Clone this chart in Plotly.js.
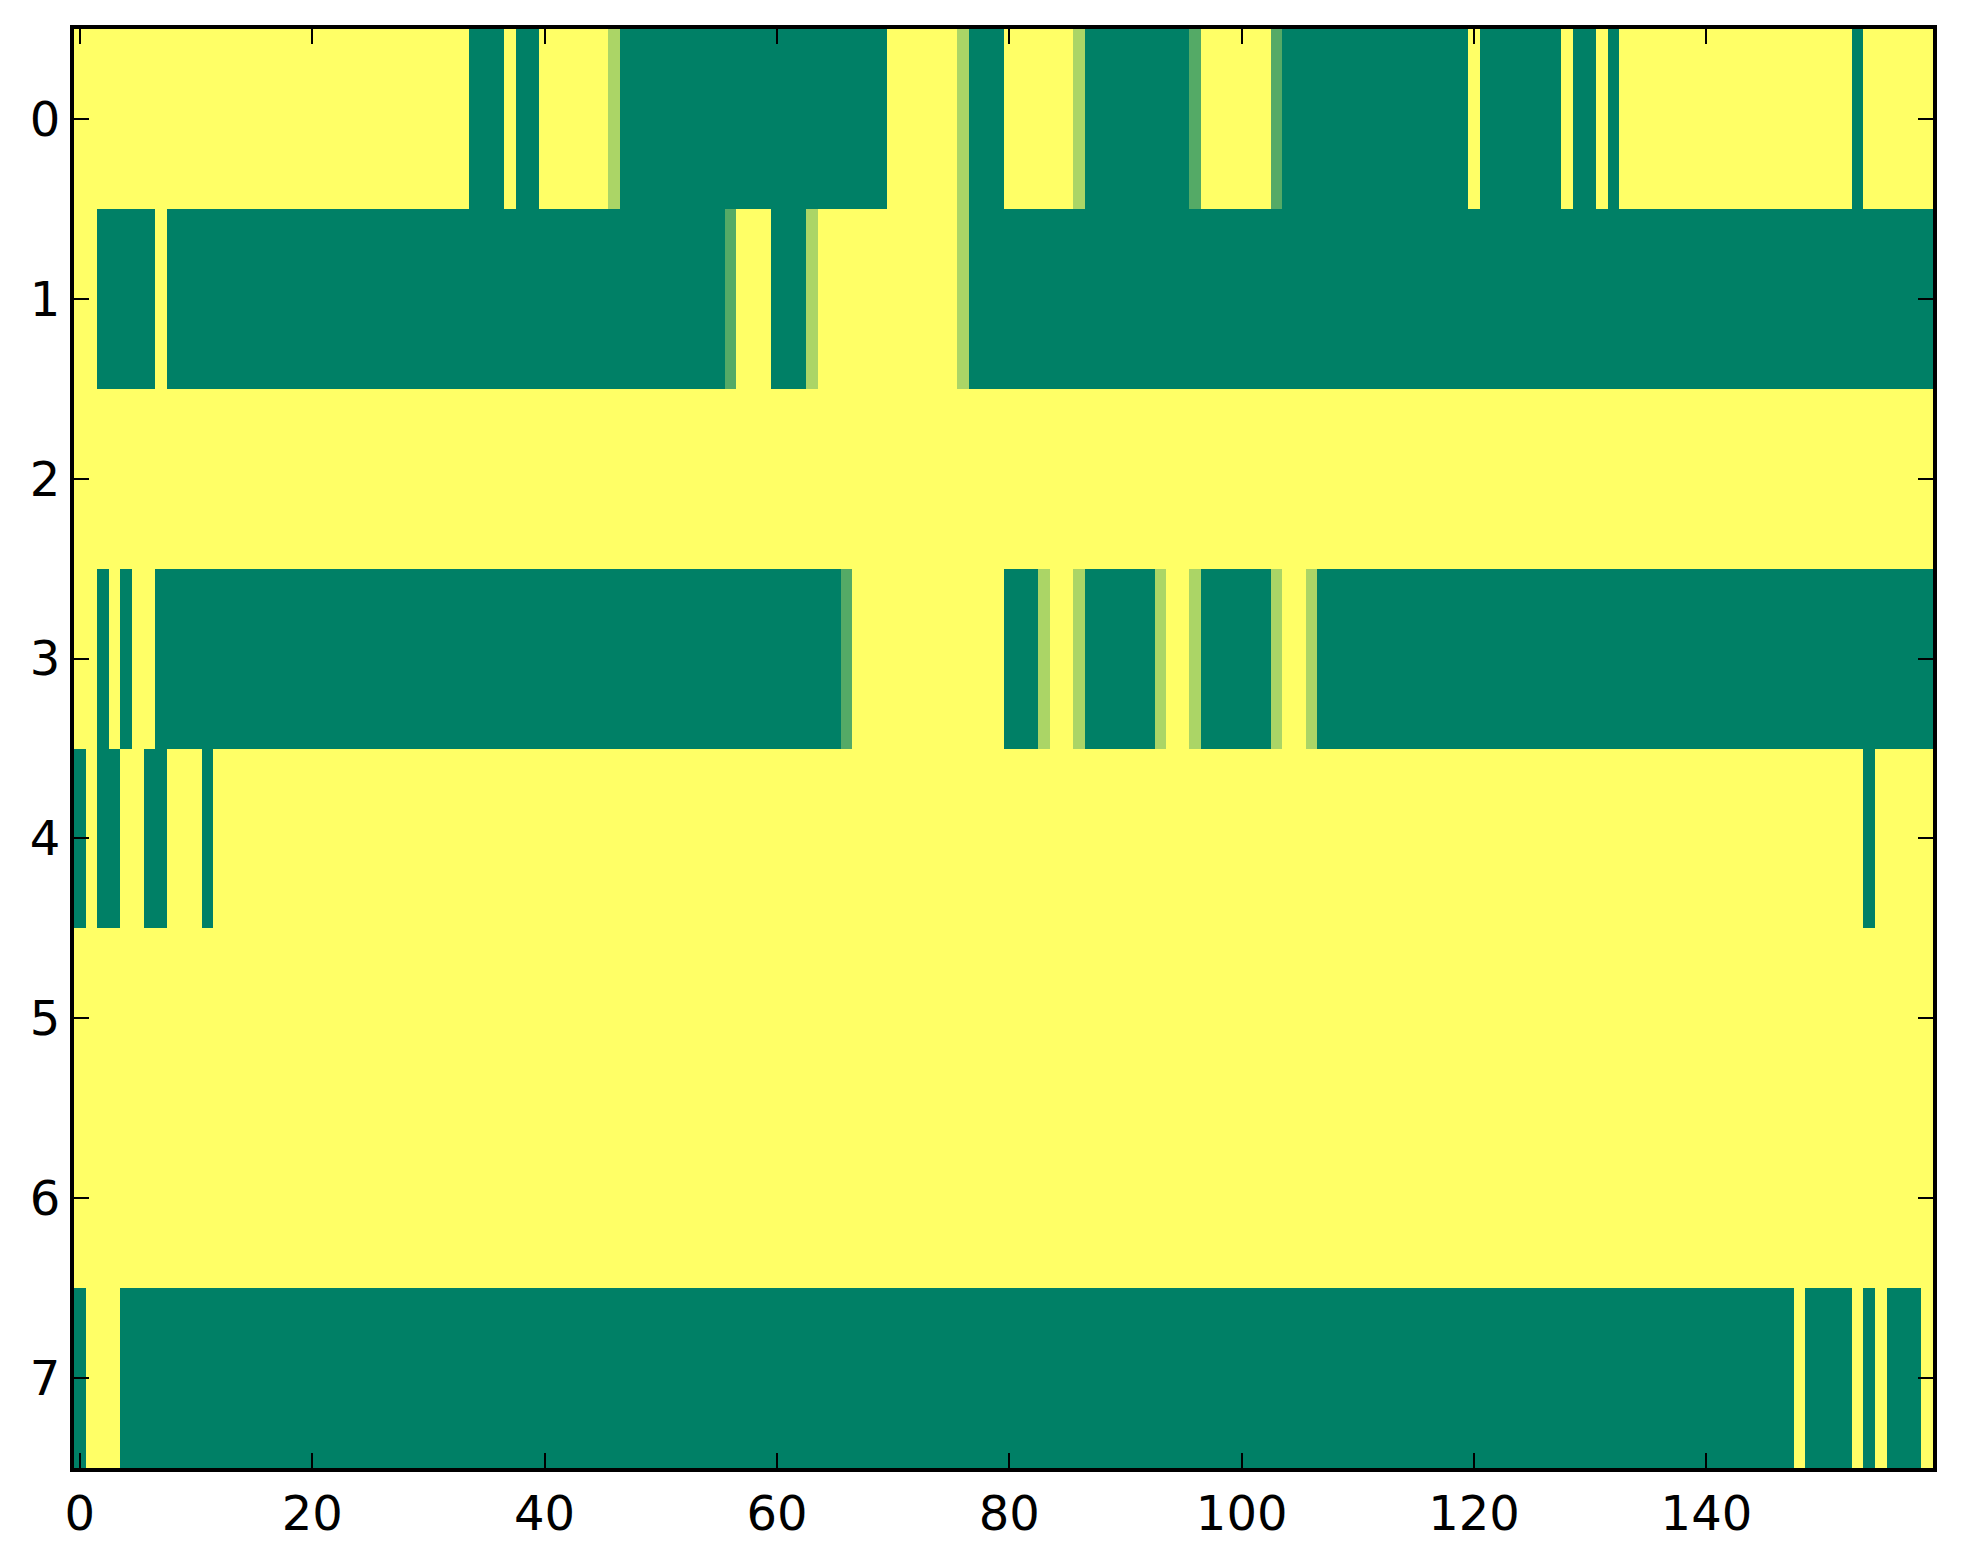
<!DOCTYPE html>
<html>
<head>
<meta charset="utf-8">
<script src="https://cdn.plot.ly/plotly-3.0.1.min.js"></script>
<style>
html,body{margin:0;padding:0;background:#fff;}
#chart{width:1963px;height:1564px;}
</style>
</head>
<body>
<div id="chart"></div>
<script>
// Cell values (summer colormap: 0 = dark green, 1 = yellow)
const row0 = [
  1,1,1,1,1,1,1,1,1,1,1,1,1,1,1,1,1,1,1,1,
  1,1,1,1,1,1,1,1,1,1,1,1,1,1,0,0,0,1,0,0,
  1,1,1,1,1,1,0.67,0,0,0,0,0,0,0,0,0,0,0,0,0,
  0,0,0,0,0,0,0,0,0,0,1,1,1,1,1,1,0.67,0,0,0,
  1,1,1,1,1,1,0.67,0,0,0,0,0,0,0,0,0,0.33,1,1,1,
  1,1,1,0.33,0,0,0,0,0,0,0,0,0,0,0,0,0,0,0,0,
  1,0,0,0,0,0,0,0,1,0,0,1,0,1,1,1,1,1,1,1,
  1,1,1,1,1,1,1,1,1,1,1,1,1,0,1,1,1,1,1,1
];
const row1 = [
  1,1,0,0,0,0,0,1,0,0,0,0,0,0,0,0,0,0,0,0,
  0,0,0,0,0,0,0,0,0,0,0,0,0,0,0,0,0,0,0,0,
  0,0,0,0,0,0,0,0,0,0,0,0,0,0,0,0,0.33,1,1,1,
  0,0,0,0.67,1,1,1,1,1,1,1,1,1,1,1,1,0.67,0,0,0,
  0,0,0,0,0,0,0,0,0,0,0,0,0,0,0,0,0,0,0,0,
  0,0,0,0,0,0,0,0,0,0,0,0,0,0,0,0,0,0,0,0,
  0,0,0,0,0,0,0,0,0,0,0,0,0,0,0,0,0,0,0,0,
  0,0,0,0,0,0,0,0,0,0,0,0,0,0,0,0,0,0,0,0
];
const row2 = [
  1,1,1,1,1,1,1,1,1,1,1,1,1,1,1,1,1,1,1,1,
  1,1,1,1,1,1,1,1,1,1,1,1,1,1,1,1,1,1,1,1,
  1,1,1,1,1,1,1,1,1,1,1,1,1,1,1,1,1,1,1,1,
  1,1,1,1,1,1,1,1,1,1,1,1,1,1,1,1,1,1,1,1,
  1,1,1,1,1,1,1,1,1,1,1,1,1,1,1,1,1,1,1,1,
  1,1,1,1,1,1,1,1,1,1,1,1,1,1,1,1,1,1,1,1,
  1,1,1,1,1,1,1,1,1,1,1,1,1,1,1,1,1,1,1,1,
  1,1,1,1,1,1,1,1,1,1,1,1,1,1,1,1,1,1,1,1
];
const row3 = [
  1,1,0,1,0,1,1,0,0,0,0,0,0,0,0,0,0,0,0,0,
  0,0,0,0,0,0,0,0,0,0,0,0,0,0,0,0,0,0,0,0,
  0,0,0,0,0,0,0,0,0,0,0,0,0,0,0,0,0,0,0,0,
  0,0,0,0,0,0,0.33,1,1,1,1,1,1,1,1,1,1,1,1,1,
  0,0,0,0.67,1,1,0.67,0,0,0,0,0,0,0.67,1,1,0.67,0,0,0,
  0,0,0,0.67,1,1,0.67,0,0,0,0,0,0,0,0,0,0,0,0,0,
  0,0,0,0,0,0,0,0,0,0,0,0,0,0,0,0,0,0,0,0,
  0,0,0,0,0,0,0,0,0,0,0,0,0,0,0,0,0,0,0,0
];
const row4 = [
  0,1,0,0,1,1,0,0,1,1,1,0,1,1,1,1,1,1,1,1,
  1,1,1,1,1,1,1,1,1,1,1,1,1,1,1,1,1,1,1,1,
  1,1,1,1,1,1,1,1,1,1,1,1,1,1,1,1,1,1,1,1,
  1,1,1,1,1,1,1,1,1,1,1,1,1,1,1,1,1,1,1,1,
  1,1,1,1,1,1,1,1,1,1,1,1,1,1,1,1,1,1,1,1,
  1,1,1,1,1,1,1,1,1,1,1,1,1,1,1,1,1,1,1,1,
  1,1,1,1,1,1,1,1,1,1,1,1,1,1,1,1,1,1,1,1,
  1,1,1,1,1,1,1,1,1,1,1,1,1,1,0,1,1,1,1,1
];
const row5 = [
  1,1,1,1,1,1,1,1,1,1,1,1,1,1,1,1,1,1,1,1,
  1,1,1,1,1,1,1,1,1,1,1,1,1,1,1,1,1,1,1,1,
  1,1,1,1,1,1,1,1,1,1,1,1,1,1,1,1,1,1,1,1,
  1,1,1,1,1,1,1,1,1,1,1,1,1,1,1,1,1,1,1,1,
  1,1,1,1,1,1,1,1,1,1,1,1,1,1,1,1,1,1,1,1,
  1,1,1,1,1,1,1,1,1,1,1,1,1,1,1,1,1,1,1,1,
  1,1,1,1,1,1,1,1,1,1,1,1,1,1,1,1,1,1,1,1,
  1,1,1,1,1,1,1,1,1,1,1,1,1,1,1,1,1,1,1,1
];
const row6 = [
  1,1,1,1,1,1,1,1,1,1,1,1,1,1,1,1,1,1,1,1,
  1,1,1,1,1,1,1,1,1,1,1,1,1,1,1,1,1,1,1,1,
  1,1,1,1,1,1,1,1,1,1,1,1,1,1,1,1,1,1,1,1,
  1,1,1,1,1,1,1,1,1,1,1,1,1,1,1,1,1,1,1,1,
  1,1,1,1,1,1,1,1,1,1,1,1,1,1,1,1,1,1,1,1,
  1,1,1,1,1,1,1,1,1,1,1,1,1,1,1,1,1,1,1,1,
  1,1,1,1,1,1,1,1,1,1,1,1,1,1,1,1,1,1,1,1,
  1,1,1,1,1,1,1,1,1,1,1,1,1,1,1,1,1,1,1,1
];
const row7 = [
  0,1,1,1,0,0,0,0,0,0,0,0,0,0,0,0,0,0,0,0,
  0,0,0,0,0,0,0,0,0,0,0,0,0,0,0,0,0,0,0,0,
  0,0,0,0,0,0,0,0,0,0,0,0,0,0,0,0,0,0,0,0,
  0,0,0,0,0,0,0,0,0,0,0,0,0,0,0,0,0,0,0,0,
  0,0,0,0,0,0,0,0,0,0,0,0,0,0,0,0,0,0,0,0,
  0,0,0,0,0,0,0,0,0,0,0,0,0,0,0,0,0,0,0,0,
  0,0,0,0,0,0,0,0,0,0,0,0,0,0,0,0,0,0,0,0,
  0,0,0,0,0,0,0,0,1,0,0,0,0,1,0,1,0,0,0,1
];
const xTicks = [0, 20, 40, 60, 80, 100, 120, 140];
const yTicks = [0, 1, 2, 3, 4, 5, 6, 7];

const z = [row0, row1, row2, row3, row4, row5, row6, row7];

const trace = {
  type: 'heatmap',
  z: z,
  zmin: 0,
  zmax: 1,
  colorscale: [[0, 'rgb(0,128,102)'], [1, 'rgb(255,255,102)']],
  showscale: false,
  hoverinfo: 'skip',
  xgap: 0,
  ygap: 0
};

const axisCommon = {
  showline: true,
  linecolor: '#000',
  linewidth: 4,
  mirror: 'ticks',
  ticks: 'inside',
  ticklen: 15,
  tickwidth: 2,
  tickcolor: '#000',
  showgrid: false,
  zeroline: false,
  tickfont: {family: 'DejaVu Sans', size: 48, color: '#000'}
};

const layout = {
  width: 1963,
  height: 1564,
  margin: {l: 74, r: 30, t: 29, b: 96, pad: 0},
  paper_bgcolor: '#fff',
  plot_bgcolor: '#fff',
  xaxis: Object.assign({}, axisCommon, {
    range: [-0.5, 159.5],
    tickmode: 'array',
    tickvals: xTicks,
    ticktext: xTicks.map(String)
  }),
  yaxis: Object.assign({}, axisCommon, {
    range: [7.5, -0.5],
    tickmode: 'array',
    tickvals: yTicks,
    ticktext: yTicks.map(String)
  })
};

Plotly.newPlot('chart', [trace], layout, {staticPlot: true, displayModeBar: false});
</script>
</body>
</html>
